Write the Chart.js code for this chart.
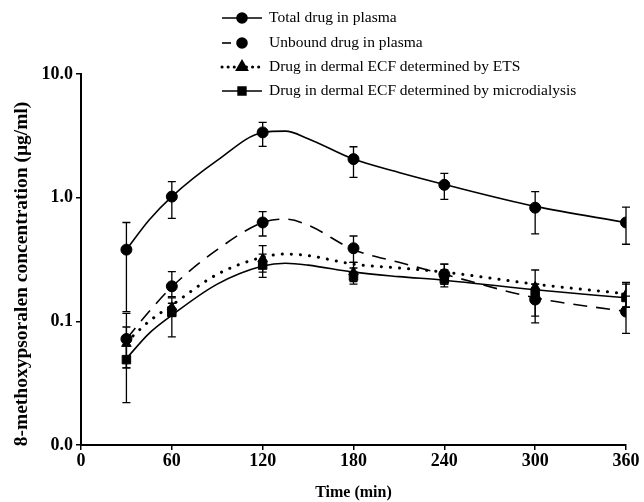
<!DOCTYPE html>
<html>
<head>
<meta charset="utf-8">
<script src="https://cdn.jsdelivr.net/npm/chart.js@4.4.1/dist/chart.umd.min.js"></script>
<style>
  html, body { margin: 0; padding: 0; background: #fff; }
  #wrap { width: 644px; height: 502px; position: relative; }
</style>
</head>
<body>
<div id="wrap"><canvas id="chart" width="644" height="502"></canvas></div>
<script>
// sampling times (min)
var times = [30, 60, 120, 180, 240, 300, 360];

// measured means and error bar ends (ug/ml)
var totalMean   = [0.38, 1.02, 3.37, 2.05, 1.27, 0.83, 0.63];
var totalUpper  = [0.63, 1.35, 4.06, 2.58, 1.57, 1.12, 0.84];
var totalLower  = [0.12, 0.68, 2.60, 1.46, 0.97, 0.51, 0.42];

var unboundMean  = [0.072, 0.192, 0.63, 0.39, 0.24, 0.15, 0.12];
var unboundUpper = [0.116, 0.252, 0.77, 0.49, 0.29, 0.20, 0.16];
var unboundLower = [0.042, 0.158, 0.49, 0.30, 0.20, 0.11, 0.08];

var etsMean  = [0.066, 0.13, 0.32, 0.25, 0.24, 0.19, 0.165];
var etsUpper = [0.09, 0.155, 0.41, 0.30, 0.29, 0.26, 0.20];
var etsLower = [0.042, 0.11, 0.25, 0.21, 0.20, 0.14, 0.13];

var microMean  = [0.049, 0.118, 0.285, 0.232, 0.22, 0.166, 0.156];
var microUpper = [0.076, 0.14, 0.35, 0.27, 0.26, 0.20, 0.206];
var microLower = [0.022, 0.075, 0.227, 0.20, 0.19, 0.097, 0.13];

// fitted curves
var fitTimes   = [30, 45, 60, 90, 120, 135, 150, 180, 210, 240, 300, 360];
var totalFit   = [0.38, 0.66, 1.02, 2.0, 3.37, 3.45, 3.0, 2.05, 1.6, 1.28, 0.85, 0.63];
var unboundFit = [0.072, 0.12, 0.19, 0.38, 0.63, 0.67, 0.6, 0.38, 0.3, 0.24, 0.155, 0.12];
var etsFit     = [0.068, 0.1, 0.135, 0.24, 0.33, 0.35, 0.34, 0.29, 0.27, 0.25, 0.2, 0.167];
var microFit   = [0.05, 0.08, 0.112, 0.2, 0.28, 0.295, 0.285, 0.25, 0.23, 0.215, 0.18, 0.155];

var seriesNames = [
  'Total drug in plasma',
  'Unbound drug in plasma',
  'Drug in dermal ECF determined by ETS',
  'Drug in dermal ECF determined by microdialysis'
];

var yTicks = [0.01, 0.1, 1, 10];
var yTickLabels = ['0.0', '0.1', '1.0', '10.0'];
var xTitle = 'Time (min)';
var yTitle = '8-methoxypsoralen concentration (\u03bcg/ml)';

var SERIF = '"Liberation Serif", "Times New Roman", serif';

function pts(xs, ys) {
  return xs.map(function (x, i) { return { x: x, y: ys[i] }; });
}

// one entry per series: style only
var styles = [
  { dash: [], width: 1.6, cap: 'butt', marker: 'circle', r: 5.5 },
  { dash: [14, 9], width: 1.6, cap: 'butt', marker: 'circle', r: 5.5 },
  { dash: [0.1, 9], width: 3, cap: 'round', marker: 'triangle', r: 5.5 },
  { dash: [], width: 1.6, cap: 'butt', marker: 'rect', r: 6 }
];
var means  = [totalMean, unboundMean, etsMean, microMean];
var uppers = [totalUpper, unboundUpper, etsUpper, microUpper];
var lowers = [totalLower, unboundLower, etsLower, microLower];
var fits   = [totalFit, unboundFit, etsFit, microFit];

var datasets = [];
fits.forEach(function (f, i) {
  datasets.push({
    label: seriesNames[i] + ' fit',
    data: pts(fitTimes, f),
    showLine: true,
    borderColor: '#000',
    borderWidth: styles[i].width,
    borderDash: styles[i].dash,
    borderCapStyle: styles[i].cap,
    cubicInterpolationMode: 'monotone',
    pointRadius: 0,
    fill: false
  });
});
means.forEach(function (m, i) {
  datasets.push({
    label: seriesNames[i],
    data: pts(times, m),
    showLine: false,
    pointStyle: styles[i].marker,
    pointRadius: styles[i].r,
    pointBackgroundColor: '#000',
    pointBorderColor: '#000',
    errUpper: uppers[i],
    errLower: lowers[i]
  });
});

// vertical error bars with caps
var errorBars = {
  id: 'errorBars',
  afterDatasetsDraw: function (chart) {
    var ctx = chart.ctx, xs = chart.scales.x, ys = chart.scales.y;
    ctx.save();
    ctx.strokeStyle = '#000';
    ctx.lineWidth = 1.3;
    chart.data.datasets.forEach(function (ds) {
      if (!ds.errUpper) return;
      ds.data.forEach(function (p, j) {
        var px = xs.getPixelForValue(p.x);
        var top = ys.getPixelForValue(ds.errUpper[j]);
        var bot = ys.getPixelForValue(ds.errLower[j]);
        ctx.beginPath();
        ctx.moveTo(px, top); ctx.lineTo(px, bot);
        ctx.moveTo(px - 4, top); ctx.lineTo(px + 4, top);
        ctx.moveTo(px - 4, bot); ctx.lineTo(px + 4, bot);
        ctx.stroke();
      });
    });
    ctx.restore();
  }
};

// legend: line sample with marker, then text; y axis title
var sampleLegend = {
  id: 'sampleLegend',
  afterDraw: function (chart) {
    var ctx = chart.ctx;
    var rowY = [18, 43, 67, 91];
    var x0 = 222, x1 = 262, xm = 242, tx = 269;
    ctx.save();
    ctx.font = '15.5px ' + SERIF;
    ctx.textBaseline = 'middle';
    ctx.fillStyle = '#000';
    styles.forEach(function (s, i) {
      var y = rowY[i];
      ctx.strokeStyle = '#000';
      ctx.lineWidth = s.width;
      ctx.lineCap = s.cap;
      ctx.setLineDash(s.dash.length ? (i === 1 ? [9, 100] : [0.1, 6]) : []);
      ctx.beginPath();
      if (i === 1) { ctx.moveTo(x0, y); ctx.lineTo(x0 + 9, y); }
      else { ctx.moveTo(x0, y); ctx.lineTo(x1, y); }
      ctx.stroke();
      ctx.setLineDash([]);
      Chart.helpers.drawPoint(ctx, { pointStyle: s.marker, radius: s.r - 0.5, borderWidth: 1 }, xm, y);
      ctx.fill();
      ctx.fillText(seriesNames[i], tx, y);
    });

    // y title, rotated
    ctx.translate(22, 274);
    ctx.rotate(-Math.PI / 2);
    ctx.font = 'bold 19.5px ' + SERIF;
    ctx.textAlign = 'center';
    ctx.fillText(yTitle, 0, 0);
    ctx.restore();
  }
};

var tickFont = { family: SERIF, size: 18, weight: 'bold' };

new Chart(document.getElementById('chart'), {
  type: 'scatter',
  data: { datasets: datasets },
  options: {
    responsive: false,
    animation: false,
    layout: { padding: { top: 74, right: 18, left: 0, bottom: 0 } },
    plugins: { legend: { display: false }, tooltip: { enabled: false } },
    scales: {
      x: {
        type: 'linear', min: 0, max: 360,
        ticks: { stepSize: 60, color: '#000', font: tickFont, padding: 1, maxRotation: 0 },
        grid: { drawOnChartArea: false, drawTicks: true, tickLength: 5, color: '#000', lineWidth: 1.5 },
        border: { display: true, color: '#000', width: 2 },
        title: { display: true, text: xTitle, color: '#000', font: { family: SERIF, size: 16, weight: 'bold' }, padding: { top: 2, bottom: 0 } },
        afterFit: function (s) { s.height = 57; }
      },
      y: {
        type: 'logarithmic', min: 0.01, max: 10,
        afterBuildTicks: function (s) { s.ticks = yTicks.map(function (v) { return { value: v }; }); },
        ticks: {
          color: '#000', font: tickFont, padding: 3,
          callback: function (v) { var k = yTicks.indexOf(v); return k < 0 ? '' : yTickLabels[k]; }
        },
        grid: { drawOnChartArea: false, drawTicks: true, tickLength: 5, color: '#000', lineWidth: 1.5 },
        border: { display: true, color: '#000', width: 2 },
        title: { display: false },
        afterFit: function (s) { s.width = 81; }
      }
    }
  },
  plugins: [errorBars, sampleLegend]
});
</script>
</body>
</html>
